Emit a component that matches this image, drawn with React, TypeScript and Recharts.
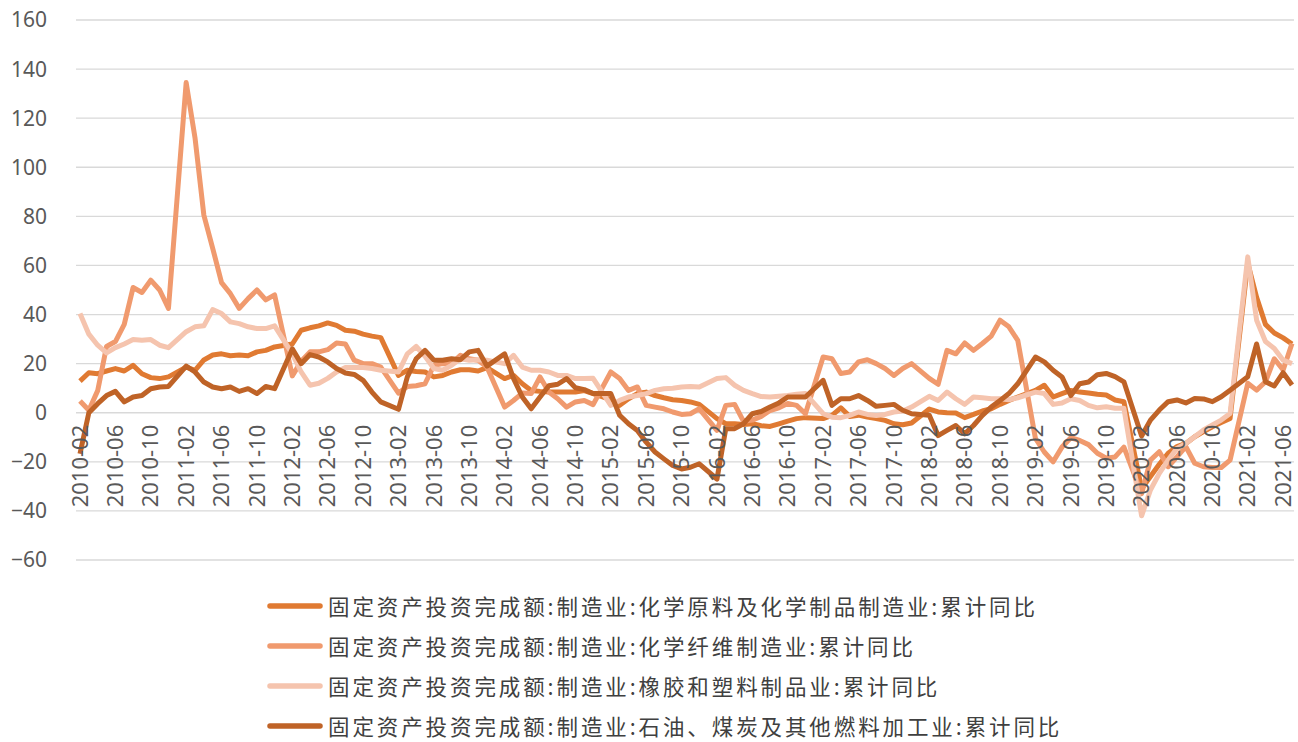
import React from 'react';
import { LineChart, Line, XAxis, YAxis, CartesianGrid, Legend } from 'recharts';

// Categories: monthly 2010-02 .. 2021-07 (January has no cumulative value)
const months: string[] = [];
for (let y = 2010; y <= 2021; y++) {
  for (let m = 1; m <= 12; m++) {
    if (y === 2010 && m === 1) continue;
    if (y === 2021 && m > 7) continue;
    months.push(`${y}-${String(m).padStart(2, '0')}`);
  }
}

const yTicks = [-60, -40, -20, 0, 20, 40, 60, 80, 100, 120, 140, 160];

const seriesNames = [
  '固定资产投资完成额:制造业:化学原料及化学制品制造业:累计同比',
  '固定资产投资完成额:制造业:化学纤维制造业:累计同比',
  '固定资产投资完成额:制造业:橡胶和塑料制品业:累计同比',
  '固定资产投资完成额:制造业:石油、煤炭及其他燃料加工业:累计同比',
];
const seriesColors = ['#E07A32', '#F09A6E', '#F5C4AE', '#BF6327'];

const chemRaw: (number | null)[] = [
  12.9, 16.3, 15.9, 17, 18, 17, 19.3, 15.9, 14.3, 13.9, 14.6,
  null, 18.6, 17.3, 21.5, 23.5, 24, 23.2, 23.5, 23.2, 24.8, 25.4, 26.8,
  null, 28, 33.6, 34.6, 35.4, 36.6, 35.6, 33.6, 33.2, 32, 31.2, 30.6,
  null, 15.2, 17.3, 16.8, 16.6, 14.6, 15.2, 16.6, 17.5, 17.5, 17, 18.4,
  null, 13.9, 15.2, 11.8, 9.1, 8.7, 8.4, 8.4, 8.4, 8.4, 9, 7.8,
  null, 5.3, 3, 5.7, 7.8, 8.4, 7, 6.1, 5.3, 5, 4.4, 3.4,
  null, -2.4, -4.5, -4.5, -4.8, -4.5, -5.3, -5.6, -4.5, -3.4, -2.4, -2,
  null, -2.4, -1.1, 2, -1.5, -1, -1.8, -2.4, -3.1, -4.5, -4.9, -4.2,
  null, 1.5, 0.3, 0, -0.1, -2, -0.7, 0.7, 1.6, 3.4, 5, 6.4,
  null, 9.1, 11.2, 6.4, 7.8, 9.1, 8.4, 8, 7.5, 7.2, 5.2, 4.5,
  null, -31, -26, -21, -16.5, -13.8, -12.5, -9.8, -7.7, -5.7, -4, -2.3,
  null, 61, 47, 36, 32.5, 30.5, 28,
];

const fiberRaw: (number | null)[] = [
  4.8, 1, 9, 27, 29, 36, 51, 49, 54, 50, 42.5,
  null, 134.5, 112, 80.5, 67, 53, 48.5, 42.5, 46.5, 50, 46, 48,
  null, 15, 21, 24.8, 24.8, 25.7, 28.4, 28, 21.4, 20, 20, 18.6,
  null, 8, 10.7, 11, 11.8, 19.3, 20, 20, 23.4, 22, 21.4, 18.6,
  null, 2.3, 5, 8, 7.8, 14.6, 8.4, 5.7, 2.3, 4.4, 5, 3.3,
  null, 16.6, 13.9, 9.1, 10.5, 3, 2.3, 1.6, 0.3, -0.7, -0.4, 1.6,
  null, -7.2, 3, 3.4, -3.5, -3, -1.5, 0.9, 2, 3.8, 3, -0.4,
  null, 22.7, 22, 16, 16.6, 20.7, 21.6, 20, 18, 15.2, 18, 20,
  null, 14, 11.6, 25.4, 24, 28.4, 25.4, 28.2, 31.2, 37.7, 35, 29.5,
  null, -10.5, -16, -20, -14, -10.2, -11.3, -13, -16.5, -18.5, -18, -14,
  null, -33, -19.3, -15.9, -22, -18, -13.8, -20.6, -22, -22.3, -22.3, -19.3,
  null, 12, 9.2, 12.6, 22, 17.4, 28.2,
];

const rubberRaw: (number | null)[] = [
  40.4, 32, 27.5, 24.4, 26.5, 28, 29.8, 29.5, 29.8, 27.5, 26.5,
  null, 33, 35, 35.4, 42, 40.4, 37, 36.3, 35, 34.3, 34.3, 35.4,
  null, 24, 16.6, 11.2, 12, 14, 16.6, 18.4, 18.4, 18.4, 18, 17.3,
  null, 16.6, 24, 27, 23, 18, 17.3, 19.3, 22, 21.4, 21.6, 21.4,
  null, 20, 23.4, 18.6, 17.3, 17.3, 16.6, 15.2, 15.2, 13.9, 13.9, 14,
  null, 3, 5, 6.4, 7, 7.8, 9.1, 9.8, 10, 10.5, 10.7, 10.5,
  null, 13.9, 14.3, 11.2, 9.1, 7.8, 6.6, 6.4, 6.7, 7, 7.5, 7.8,
  null, -0.4, -1.8, -2, -1.1, 0.3, -0.7, -1.1, -0.7, 0.3, 0.7, 2.3,
  null, 6.7, 5, 8.4, 5.7, 3.4, 6.4, 6.1, 5.7, 5.7, 5.3, 6.1,
  null, 8.4, 7.8, 3.4, 4, 5.7, 5, 3, 2, 2.4, 1.8, 1.8,
  null, -42, -31.5, -24.7, -19.3, -14.5, -12.5, -9.8, -7, -5, -3, -0.3,
  null, 63.5, 37.7, 29, 26.2, 21.4, 20,
];

const petroRaw: (number | null)[] = [
  -16.7, 0, 3.7, 7, 8.7, 4.4, 6.4, 7, 9.8, 10.5, 10.7,
  null, 19, 16.6, 12.5, 10.5, 9.8, 10.5, 8.7, 9.8, 7.8, 10.7, 9.8,
  null, 26, 20, 23.7, 22.7, 20.7, 18, 16.2, 15.6, 13.2, 8.4, 4.4,
  null, 1.4, 14.6, 22, 25.4, 21.4, 21.4, 22, 21.6, 24.8, 25.4, 19,
  null, 24, 14, 6.4, 1.6, 6.4, 11, 11.6, 13.9, 10.2, 9.4, 7.8,
  null, 7.8, -1, -4.5, -7.2, -12, -16, -18.8, -21.5, -22.9, -22.2, -20.8,
  null, -27, -6.5, -6.5, -4.5, -0.4, 0.5, 2.3, 4, 6.4, 6.4, 6.4,
  null, 13.2, 3, 5.7, 5.7, 7, 5, 2.6, 3, 3.4, 1, -0.4,
  null, -1, -9.3, -7.2, -5.2, -8.6, -5.2, -1.1, 2.3, 5, 7.8, 11.8,
  null, 22.7, 20.7, 17.3, 14.6, 7, 11.8, 12.5, 15.5, 16, 14.7, 12.6,
  null, -9.5, -3, 1.1, 4.5, 5.2, 4, 5.8, 5.6, 4.5, 6.5, 9.2,
  null, 14.7, 28, 12.6, 10.9, 16.3, 11.3,
];

const data = months.map((month, i) => ({
  month,
  s1: chemRaw[i],
  s2: fiberRaw[i],
  s3: rubberRaw[i],
  s4: petroRaw[i],
}));

const W = 1298;
const H = 742;
const M_TOP = 20;
const X_AXIS_H = 1;
const M_BOTTOM = 181;
const Y_MIN = -60;
const Y_MAX = 160;
const PLOT_H = H - M_TOP - M_BOTTOM - X_AXIS_H;
const ZERO_Y = M_TOP + (Y_MAX / (Y_MAX - Y_MIN)) * PLOT_H;

const AXIS_FONT = '"Noto Sans", "DejaVu Sans", sans-serif';

const XTick = (props: any) => {
  const { x, payload } = props;
  const ty = ZERO_Y + 12;
  return (
    <text
      x={x}
      y={ty}
      transform={`rotate(-90, ${x}, ${ty})`}
      textAnchor="end"
      dy="0.35em"
      fill="#595959"
      fontSize={22}
      fontFamily={AXIS_FONT}
    >
      {payload.value}
    </text>
  );
};

const LegendContent = () => (
  <div style={{ textAlign: 'left' }}>
    {seriesNames.map((name, i) => (
      <div key={name} style={{ display: 'flex', alignItems: 'center', height: 40 }}>
        <svg width={58} height={12} style={{ flex: 'none' }}>
          <line x1={4} y1={6} x2={54} y2={6} stroke={seriesColors[i]} strokeWidth={5.5} strokeLinecap="round" />
        </svg>
        <span
          style={{
            marginLeft: 4,
            fontFamily: '"Noto Sans CJK SC", sans-serif',
            fontSize: 21.5,
            letterSpacing: 2.9,
            color: '#404040',
            whiteSpace: 'nowrap',
            lineHeight: '22px',
          }}
        >
          {name}
        </span>
      </div>
    ))}
  </div>
);

export default function App() {
  return (
    <div style={{ position: 'absolute', left: 0, top: 0, width: W, height: H, background: '#fff' }}>
      <LineChart width={W} height={H} data={data} margin={{ top: M_TOP, right: 4, bottom: M_BOTTOM, left: 0 }}>
        <CartesianGrid vertical={false} stroke="#D9D9D9" strokeWidth={1.3} />
        <XAxis
          dataKey="month"
          interval={3}
          axisLine={false}
          tickLine={false}
          height={X_AXIS_H}
          padding={{ left: 4, right: 2 }}
          tick={<XTick />}
        />
        <YAxis
          type="number"
          domain={[Y_MIN, Y_MAX]}
          ticks={yTicks}
          width={76}
          axisLine={false}
          tickLine={false}
          tickSize={0}
          tickMargin={29}
          tick={{ fill: '#595959', fontSize: 21, fontFamily: AXIS_FONT }}
          tickFormatter={(v: number) => (v < 0 ? '\u2212' + Math.abs(v) : String(v))}
        />
        <Legend
          layout="vertical"
          align="center"
          verticalAlign="middle"
          wrapperStyle={{ position: 'absolute', left: 266, top: 586, width: 900, height: 156 }}
          content={<LegendContent />}
        />
        {['s1', 's2', 's3', 's4'].map((k, i) => (
          <Line
            key={k}
            type="linear"
            dataKey={k}
            name={seriesNames[i]}
            stroke={seriesColors[i]}
            strokeWidth={5}
            strokeLinejoin="round"
            dot={false}
            activeDot={false}
            connectNulls
            isAnimationActive={false}
          />
        ))}
      </LineChart>
    </div>
  );
}
